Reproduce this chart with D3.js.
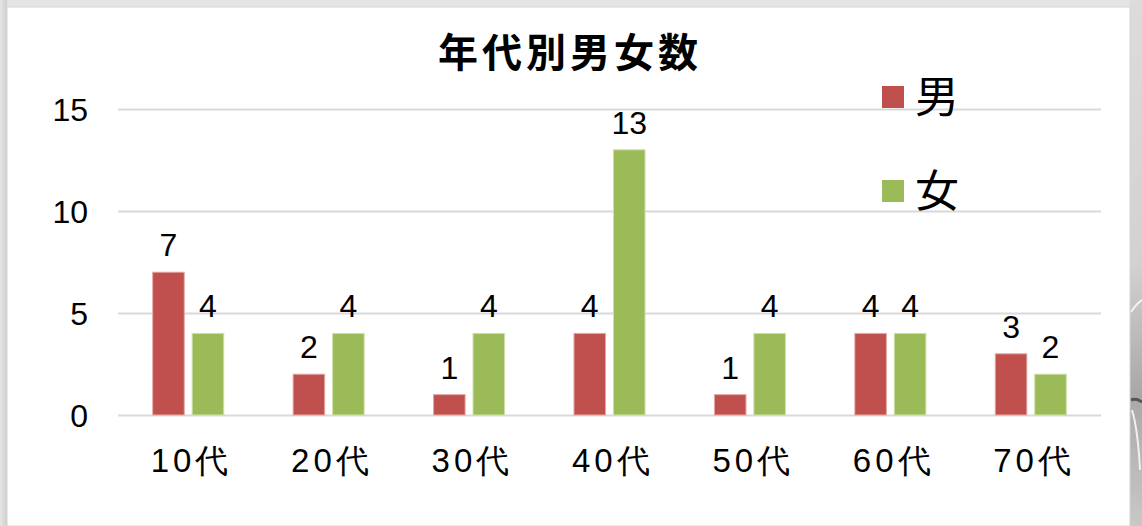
<!DOCTYPE html>
<html>
<head>
<meta charset="utf-8">
<script src="https://cdn.jsdelivr.net/npm/d3@7"></script>
<style>
  html, body { margin: 0; padding: 0; background: #e4e4e4; overflow: hidden; }
  svg { display: block; }
  .tick text { font-family: "Liberation Sans", Arial, sans-serif; }
</style>
</head>
<body>
<svg id="chart" width="1142" height="526"></svg>
<script>
// data
var categories = ["10代", "20代", "30代", "40代", "50代", "60代", "70代"];
var series = ["男", "女"];
var male = [7, 2, 1, 4, 1, 4, 3];
var female = [4, 4, 4, 13, 4, 4, 2];
var yTicks = [0, 5, 10, 15];
var colors = ["#c0504d", "#9bbb59"];
var strokes = ["#e3a9a7", "#cfe0a9"];

var svg = d3.select("#chart");
var W = 1142, H = 526;

// background frame
var defs = svg.append("defs");
var g1 = defs.append("linearGradient").attr("id", "leftEdge");
g1.append("stop").attr("offset", "0").attr("stop-color", "#e6e6e6");
g1.append("stop").attr("offset", "1").attr("stop-color", "#cfcfcf");
var g2 = defs.append("linearGradient").attr("id", "rightEdge").attr("x1", 0).attr("y1", 0).attr("x2", 0).attr("y2", 1);
g2.append("stop").attr("offset", "0").attr("stop-color", "#dcdcdc");
g2.append("stop").attr("offset", "0.5").attr("stop-color", "#d2d2d2");
g2.append("stop").attr("offset", "0.75").attr("stop-color", "#a8a8a8");
g2.append("stop").attr("offset", "1").attr("stop-color", "#c8c8c8");

svg.append("rect").attr("width", W).attr("height", H).attr("fill", "#e4e4e4");
svg.append("rect").attr("x", 0).attr("y", 0).attr("width", 7).attr("height", H).attr("fill", "url(#leftEdge)");
svg.append("rect").attr("x", 1130).attr("y", 0).attr("width", 12).attr("height", H).attr("fill", "url(#rightEdge)");
// swirl hints on right edge
svg.append("path").attr("d", "M1131,312 Q1136,304 1142,300").attr("stroke", "#f4f4f4").attr("stroke-width", 2).attr("fill", "none");
svg.append("path").attr("d", "M1131,400 Q1136,398 1142,402").attr("stroke", "#555").attr("stroke-width", 3).attr("fill", "none");
svg.append("path").attr("d", "M1132,410 Q1138,430 1140,470").attr("stroke", "#f0f0f0").attr("stroke-width", 2).attr("fill", "none");
svg.append("rect").attr("x", 7).attr("y", 7).attr("width", 1123).attr("height", H - 7)
  .attr("fill", "#fff").attr("stroke", "#d4d4d4").attr("stroke-width", 1);

// scales
var x0 = d3.scaleBand().domain(categories).range([118, 1101]).paddingInner(0.494).paddingOuter(0.247);
var x1 = d3.scaleBand().domain(series).range([0, x0.bandwidth()]).paddingInner(0.2);
var y = d3.scaleLinear().domain([0, 15]).range([415, 109]);

// grid + y labels
var yAxis = d3.axisLeft(y).tickValues(yTicks).tickSize(-(1101 - 118)).tickPadding(30);
var ya = svg.append("g").attr("transform", "translate(118,0)").call(yAxis);
ya.select(".domain").remove();
ya.selectAll(".tick line").attr("stroke", "#d9d9d9").attr("stroke-width", 2);
ya.selectAll(".tick text").attr("font-size", 32).attr("fill", "#000").attr("dy", "0.36em");

// x labels
var xAxis = d3.axisBottom(x0).tickSize(0).tickPadding(34);
var xa = svg.append("g").attr("transform", "translate(0,415)").call(xAxis);
xa.select(".domain").remove();
xa.selectAll(".tick text").attr("font-size", 33).attr("fill", "#000")
  .attr("font-family", "'Noto Sans CJK JP', sans-serif").attr("letter-spacing", 4).attr("dx", "0.1em");

// bars
var rows = categories.map(function(c, i) { return { cat: c, vals: [male[i], female[i]] }; });
var groups = svg.selectAll(".grp").data(rows).enter().append("g")
  .attr("transform", function(d) { return "translate(" + x0(d.cat) + ",0)"; });

groups.selectAll("rect").data(function(d) { return d.vals.map(function(v, j) { return { s: series[j], v: v, j: j }; }); })
  .enter().append("rect")
  .attr("x", function(d) { return x1(d.s); })
  .attr("y", function(d) { return y(d.v); })
  .attr("width", x1.bandwidth())
  .attr("height", function(d) { return y(0) - y(d.v); })
  .attr("fill", function(d) { return colors[d.j]; })
  .attr("stroke", function(d) { return strokes[d.j]; })
  .attr("stroke-width", 1);

groups.selectAll("text").data(function(d) { return d.vals.map(function(v, j) { return { s: series[j], v: v }; }); })
  .enter().append("text")
  .attr("x", function(d) { return x1(d.s) + x1.bandwidth() / 2; })
  .attr("y", function(d) { return y(d.v) - 16; })
  .attr("text-anchor", "middle")
  .attr("font-family", "'Liberation Sans', Arial, sans-serif")
  .attr("font-size", 32)
  .text(function(d) { return d.v; });

// title
svg.append("text").attr("x", 570).attr("y", 67).attr("text-anchor", "middle")
  .attr("font-family", "'Noto Sans CJK JP', sans-serif").attr("font-weight", "bold")
  .attr("font-size", 40).attr("letter-spacing", 4).text("年代別男女数");

// legend
var leg = svg.append("g");
series.forEach(function(s, i) {
  var ly = 86 + i * 94;
  leg.append("rect").attr("x", 882).attr("y", ly).attr("width", 22).attr("height", 22).attr("fill", colors[i]);
  leg.append("text").attr("x", 915).attr("y", ly + 27).attr("font-size", 44)
    .attr("font-family", "'Noto Sans CJK JP', sans-serif").text(s);
});
</script>
</body>
</html>
